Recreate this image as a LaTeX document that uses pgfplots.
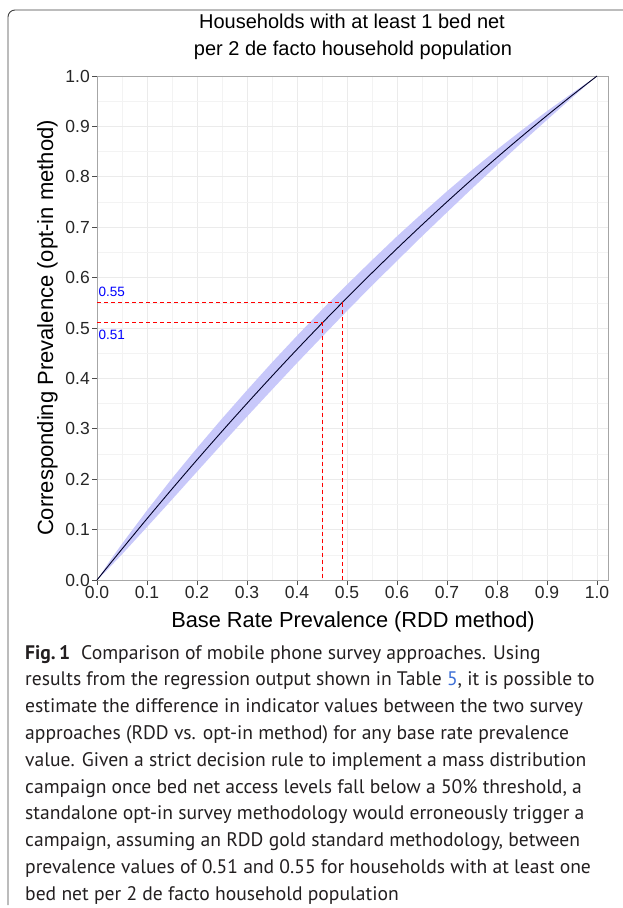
\documentclass[border=0pt]{standalone}
\usepackage{pgfplots}
\pgfplotsset{compat=1.18}
\usepackage{fontspec}
\setmainfont{Liberation Sans}
\newfontfamily\capfont{PT Sans}
\definecolor{bandfill}{HTML}{C8C8FA}
\definecolor{gridmaj}{HTML}{EBEBEB}
\definecolor{gridmin}{HTML}{F3F3F3}
\definecolor{capcol}{HTML}{231F20}
\definecolor{linkblue}{HTML}{3D6FD6}
\begin{document}
\begin{tikzpicture}
\useasboundingbox (0pt,0pt) rectangle (623pt,-908pt);
% frame
\draw[color=black!75, line width=0.9pt, rounded corners=7pt] (8pt,-905pt) -- (8pt,-10pt) -- (640pt,-10pt);
% title
\node[anchor=base, inner sep=0, font=\fontsize{20}{24}\selectfont] at (352pt,-28pt) {Households with at least 1 bed net};
\node[anchor=base, inner sep=0, font=\fontsize{20}{24}\selectfont] at (353pt,-55pt) {per 2 de facto household population};
\begin{axis}[
  at={(97pt,-580pt)}, anchor=south west,
  scale only axis, width=511pt, height=504pt,
  xmin=0, xmax=1.022, ymin=0, ymax=1,
  xtick={0,0.1,0.2,0.3,0.4,0.5,0.6,0.7,0.8,0.9,1.0},
  ytick={0,0.1,0.2,0.3,0.4,0.5,0.6,0.7,0.8,0.9,1.0},
  minor tick num=1,
  grid=both,
  major grid style={color=gridmaj, line width=0.8pt},
  minor grid style={color=gridmin, line width=0.6pt},
  axis line style={color=black!35, line width=0.8pt},
  tick align=outside, tick pos=left,
  major tick length=5pt, minor tick length=0pt,
  tick style={color=black!70, line width=0.7pt},
  /pgf/number format/assume math mode=true,
  xticklabel={\pgfmathprintnumber[fixed,fixed zerofill,precision=1]{\tick}},
  yticklabel={\pgfmathprintnumber[fixed,fixed zerofill,precision=1]{\tick}},
  ticklabel style={font=\fontsize{17.5}{19}\selectfont, color=black!85},
  xticklabel style={inner sep=1pt},
  yticklabel style={inner sep=2pt},
  xlabel={Base Rate Prevalence (RDD method)},
  ylabel={Corresponding Prevalence (opt-in method)},
  xlabel style={at={(axis description cs:0.501,-0.0952)}, anchor=base, font=\fontsize{21.8}{24}\selectfont},
  ylabel style={at={(axis description cs:-0.086,0.5)}, anchor=base, rotate=0, font=\fontsize{22}{24}\selectfont},
  clip=false,
]
% confidence band
\addplot[fill=bandfill, draw=none] coordinates {
(0,0) (0.025,0.037) (0.05,0.0718) (0.1,0.1381) (0.15,0.2015) (0.2,0.2619) (0.25,0.3202) (0.3,0.3765) (0.35,0.4316) (0.4,0.4846) (0.45,0.5364) (0.5,0.5861) (0.55,0.6346) (0.6,0.682) (0.65,0.7272) (0.7,0.7713) (0.75,0.8133) (0.8,0.8541) (0.85,0.8928) (0.9,0.9303) (0.95,0.9658) (1,1)
(0.95,0.957) (0.9,0.9129) (0.85,0.8684) (0.8,0.8227) (0.75,0.7767) (0.7,0.7295) (0.65,0.682) (0.6,0.6332) (0.55,0.5842) (0.5,0.5339) (0.45,0.4824) (0.4,0.4306) (0.35,0.3776) (0.3,0.3243) (0.25,0.2698) (0.2,0.2149) (0.15,0.1597) (0.1,0.1051) (0.05,0.051) (0.025,0.0248) (0,0)
} \closedcycle;
% fitted line
\addplot[color=black!85!blue, line width=0.9pt, smooth] coordinates {
(0,0) (0.025,0.0309) (0.05,0.0614) (0.1,0.1216) (0.15,0.1806) (0.2,0.2384) (0.25,0.295) (0.3,0.3504) (0.35,0.4046) (0.4,0.4576) (0.45,0.5094) (0.5,0.56) (0.55,0.6094) (0.6,0.6576) (0.65,0.7046) (0.7,0.7504) (0.75,0.795) (0.8,0.8384) (0.85,0.8806) (0.9,0.9216) (0.95,0.9614) (1,1)
};
% dashed reference lines
\addplot[color=red, line width=1pt, dash pattern=on 4pt off 3pt] coordinates {(0,0.55) (0.49,0.55) (0.49,0)};
\addplot[color=red, line width=1pt, dash pattern=on 4pt off 3pt] coordinates {(0,0.51) (0.45,0.51) (0.45,0)};
\node[anchor=base west, inner sep=0, color=blue, font=\fontsize{13.5}{14}\selectfont] at (axis cs:0.003,0.563) {0.55};
\node[anchor=north west, inner sep=0, color=blue, font=\fontsize{13.5}{14}\selectfont] at (axis cs:0.003,0.497) {0.51};
\end{axis}
% caption
\node[anchor=base west, inner sep=0, text=capcol, font=\capfont\fontsize{19.6}{26.8}\selectfont] at (25pt,-659pt) {\parbox[t]{600pt}{\raggedright
\textbf{Fig.\,1}\hspace{0.3em} Comparison of mobile phone survey approaches. Using\\
results from the regression output shown in Table {\color{linkblue}5}, it is possible to\\
estimate the difference in indicator values between the two survey\\
approaches (RDD vs. opt-in method) for any base rate prevalence\\
value. Given a strict decision rule to implement a mass distribution\\
campaign once bed net access levels fall below a 50\% threshold, a\\
standalone opt-in survey methodology would erroneously trigger a\\
campaign, assuming an RDD gold standard methodology, between\\
prevalence values of 0.51 and 0.55 for households with at least one\\
bed net per 2 de facto household population}};
\end{tikzpicture}
\end{document}
